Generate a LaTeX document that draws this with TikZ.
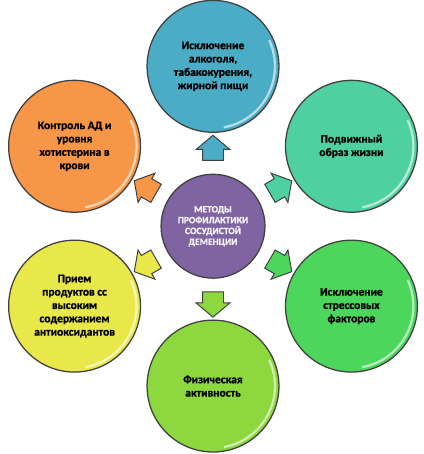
\documentclass[tikz,border=0pt]{standalone}
\usepackage{fontspec}
\setmainfont{Carlito}[BoldFont={Carlito Bold}, BoldFeatures={FakeBold=1.2}]
\usepackage{xcolor}
\usetikzlibrary{shapes.arrows}

\definecolor{cAqua}{RGB}{75,172,198}
\definecolor{cTeal}{RGB}{78,208,160}
\definecolor{cGreen}{RGB}{76,214,92}
\definecolor{cLime}{RGB}{140,216,62}
\definecolor{cYellow}{RGB}{232,232,74}
\definecolor{cOrange}{RGB}{247,150,70}
\definecolor{cPurple}{RGB}{128,100,162}

\begin{document}
\begin{tikzpicture}[
  circ/.style={circle, draw=black!75, line width=0.9pt, minimum size=3.3cm, inner sep=0pt, align=center,
    font=\bfseries\fontsize{8.2}{9.5}\selectfont, text=black,
    path picture={\draw[white, opacity=0.6, line width=1.6pt]
      ([shift={(-80:1.55)}]path picture bounding box.center) arc[start angle=-80, end angle=25, radius=1.55];}},
  mid/.style={circ, minimum size=2.6cm, fill=cPurple, text=white!92!cPurple, font=\bfseries\fontsize{6.8}{7.7}\selectfont},
  barr/.style={single arrow, draw=black!75, line width=0.7pt, inner xsep=0pt, inner ysep=0.25cm,
    minimum height=0.63cm, single arrow head extend=0.16cm, single arrow tip angle=100}
]
\useasboundingbox (-5.33,-5.70) rectangle (5.27,5.66);

\node[mid] (ctr) at (0,0) {МЕТОДЫ\\ ПРОФИЛАКТИКИ\\ СОСУДИСТОЙ\\ ДЕМЕНЦИИ};

\node[circ, fill=cAqua] (top) at (90:4) {Исключение\\ алкоголя,\\ табакокурения,\\ жирной пищи};
\node[circ, fill=cTeal] (tr) at (30:4) {Подвижный\\ образ жизни};
\node[circ, fill=cGreen] (br) at (-30:4) {Исключение\\ стрессовых\\ факторов};
\node[circ, fill=cLime] (bot) at (-90:4) {Физическая\\ активность};
\node[circ, fill=cYellow] (bl) at (210:4) {Прием\\ продуктов сс\\ высоким\\ содержанием\\ антиоксидантов};
\node[circ, fill=cOrange] (tl) at (150:4) {Контроль АД и\\ уровня\\ хотистерина в\\ крови};

\node[barr, fill=cAqua, rotate=90] (atop) at (90:1.85) {};
\node[barr, fill=cTeal, rotate=30] (atr) at (30:1.85) {};
\node[barr, fill=cGreen, rotate=-30] (abr) at (-30:1.85) {};
\node[barr, fill=cLime, rotate=-90] (abot) at (-90:1.85) {};
\node[barr, fill=cYellow, rotate=210] (abl) at (210:1.85) {};
\node[barr, fill=cOrange, rotate=150] (atl) at (150:1.85) {};
\end{tikzpicture}
\end{document}
